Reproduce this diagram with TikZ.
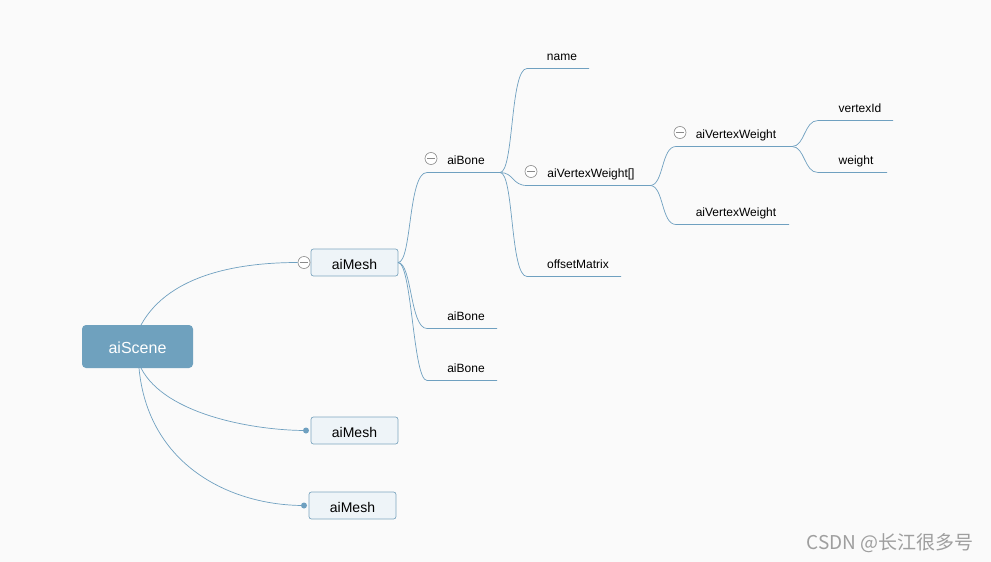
\documentclass[tikz,border=0pt]{standalone}
\usepackage{fontspec}
\setmainfont{Liberation Sans}
\newfontfamily\cjk{Noto Sans CJK SC}
\definecolor{bgc}{HTML}{FAFAFA}
\definecolor{linec}{HTML}{6FA0C0}
\definecolor{rootc}{HTML}{6FA1BE}
\definecolor{boxfill}{HTML}{EEF4F8}
\definecolor{boxline}{HTML}{7FA7C0}
\definecolor{markc}{HTML}{8A8A8A}
\begin{document}
\begin{tikzpicture}[x=1pt,y=-1pt,
  conn/.style={draw=linec,line width=0.7pt},
  rootbox/.style={fill=rootc,rounded corners=4pt,minimum width=111pt,minimum height=43pt,text=white,font=\fontsize{16}{18}\selectfont,inner sep=0pt},
  meshbox/.style={draw=boxline,fill=boxfill,rounded corners=2.5pt,minimum width=87pt,minimum height=27pt,font=\fontsize{14}{16}\selectfont,inner sep=0pt,line width=0.7pt},
  boxtext/.style={font=\fontsize{14}{16}\selectfont,inner sep=0pt},
  lbl/.style={font=\fontsize{12}{14}\selectfont,inner sep=0pt,anchor=base},
  collapse/.style={circle,draw=markc,fill=white,minimum size=12pt,inner sep=0pt,line width=0.6pt,
    path picture={\draw[markc,line width=0.6pt] ([xshift=-4pt]path picture bounding box.center) -- ([xshift=4pt]path picture bounding box.center);}},
  dotm/.style={circle,fill=linec,minimum size=6pt,inner sep=0pt}
]
\fill[bgc] (0,0) rectangle (991,562);
\useasboundingbox (0,0) rectangle (991,562);

% root and meshes
\node[rootbox] (scene) at (137.5,346.5) {};
\node[boxtext,text=white,font=\fontsize{16}{18}\selectfont] (scenet) at (137.5,348) {aiScene};
\node[meshbox] (mesh1) at (354.5,262.5) {};
\node[meshbox] (mesh2) at (354.5,430.5) {};
\node[meshbox] (mesh3) at (352.5,505.5) {};
\node[boxtext] (mesh1t) at (354.5,264) {aiMesh};
\node[boxtext] (mesh2t) at (354.5,432) {aiMesh};
\node[boxtext] (mesh3t) at (352.5,507) {aiMesh};

\node[collapse] (c1) at (304,262.5) {};
\node[dotm] (d2) at (306,430.5) {};
\node[dotm] (d3) at (304,505.5) {};

\coordinate (st1) at (141,325);
\coordinate (sb2) at (141,368);
\coordinate (sb3) at (139,368);

\draw[conn] (st1) .. controls (170,272) and (245,262.5) .. (c1.west);
\draw[conn] (sb2) .. controls (165,415) and (255,430.5) .. (d2.center);
\draw[conn] (sb3) .. controls (148,465) and (230,505.5) .. (d3.center);

% level 2: aiBone
\coordinate (m1r) at (398,262.5);
\coordinate (b1s) at (427,172.5);
\coordinate (b1e) at (500,172.5);
\coordinate (b2s) at (427,328.5);
\coordinate (b2e) at (497,328.5);
\coordinate (b3s) at (427,380.5);
\coordinate (b3e) at (497,380.5);
\node[lbl] (bone1) at (466,164.5) {aiBone};
\node[collapse] (c2) at (431,158.5) {};
\node[lbl] (bone2) at (466,320.5) {aiBone};
\node[lbl] (bone3) at (466,372.5) {aiBone};

\draw[conn] (m1r) .. controls (412,262.5) and (408,172.5) .. (b1s) -- (b1e);
\draw[conn] (m1r) .. controls (412,262.5) and (410,328.5) .. (b2s) -- (b2e);
\draw[conn] (m1r) .. controls (412,262.5) and (413,380.5) .. (b3s) -- (b3e);

% level 3
\coordinate (n1s) at (527,68.5);
\coordinate (n1e) at (589,68.5);
\coordinate (v1s) at (527,185.5);
\coordinate (v1e) at (650,185.5);
\coordinate (o1s) at (527,276.5);
\coordinate (o1e) at (621,276.5);
\node[lbl] (name) at (562,60.5) {name};
\node[lbl] (vwa) at (591,177.5) {aiVertexWeight[]};
\node[collapse] (c3) at (531,171.5) {};
\node[lbl] (offm) at (578,268.5) {offsetMatrix};

\draw[conn] (b1e) .. controls (514,172.5) and (510,68.5) .. (n1s) -- (n1e);
\draw[conn] (b1e) .. controls (514,172.5) and (512,185.5) .. (v1s) -- (v1e);
\draw[conn] (b1e) .. controls (514,172.5) and (510,276.5) .. (o1s) -- (o1e);

% level 4
\coordinate (w1s) at (676,146.5);
\coordinate (w1e) at (792,146.5);
\coordinate (w2s) at (676,224.5);
\coordinate (w2e) at (789,224.5);
\node[lbl] (vw1) at (736,138.5) {aiVertexWeight};
\node[collapse] (c4) at (680,132.5) {};
\node[lbl] (vw2) at (736,216.5) {aiVertexWeight};

\draw[conn] (v1e) .. controls (664,185.5) and (661,146.5) .. (w1s) -- (w1e);
\draw[conn] (v1e) .. controls (664,185.5) and (661,224.5) .. (w2s) -- (w2e);

% level 5
\coordinate (x1s) at (818,120.5);
\coordinate (x1e) at (893,120.5);
\coordinate (x2s) at (818,172.5);
\coordinate (x2e) at (887,172.5);
\node[lbl] (vid) at (860,112.5) {vertexId};
\node[lbl] (wt) at (856,164.5) {weight};

\draw[conn] (w1e) .. controls (805,146.5) and (804,120.5) .. (x1s) -- (x1e);
\draw[conn] (w1e) .. controls (805,146.5) and (804,172.5) .. (x2s) -- (x2e);

% watermark
\node[font=\cjk\fontsize{19}{22}\selectfont,text=black!38,inner sep=0pt] (wm) at (890,543) {CSDN @长江很多号};
\end{tikzpicture}
\end{document}
